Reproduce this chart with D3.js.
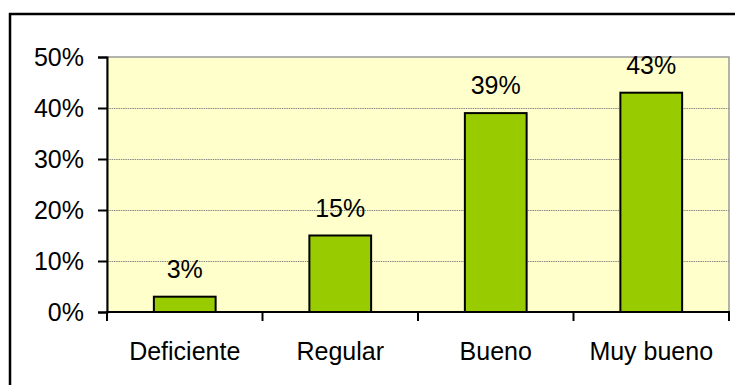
<!DOCTYPE html>
<html>
<head>
<meta charset="utf-8">
<script src="https://cdn.jsdelivr.net/npm/d3@7"></script>
<style>
  html, body { margin: 0; padding: 0; background: #fff; }
  svg { display: block; }
  text { font-family: "Liberation Sans", Arial, sans-serif; fill: #000; }
</style>
</head>
<body>
<svg id="chart" width="735" height="385"></svg>
<script>
// Ratings and their shares
const categories = ["Deficiente", "Regular", "Bueno", "Muy bueno"];
const values = [0.03, 0.15, 0.39, 0.43];
const yTicks = [0, 0.1, 0.2, 0.3, 0.4, 0.5];

const svg = d3.select("#chart");
const W = 735, H = 385;
const plot = { left: 107, right: 729, top: 57, bottom: 312 };

// Outer frame
svg.append("rect")
  .attr("x", 10).attr("y", 14)
  .attr("width", W + 20).attr("height", H + 20)
  .attr("fill", "#fff").attr("stroke", "#000").attr("stroke-width", 2.5);

const x = d3.scaleBand().domain(categories)
  .range([plot.left, plot.right]).paddingInner(0.59).paddingOuter(0.295);
const xOuter = d3.scaleBand().domain(categories).range([plot.left, plot.right]);
const y = d3.scaleLinear().domain([0, 0.5]).range([plot.bottom, plot.top]);

// Plot background
svg.append("rect")
  .attr("x", plot.left).attr("y", plot.top)
  .attr("width", plot.right - plot.left).attr("height", plot.bottom - plot.top)
  .attr("fill", "#FFFFCC").attr("stroke", "#999").attr("stroke-width", 1.5);

// Gridlines
svg.append("g").selectAll("line")
  .data(yTicks.filter(t => t > 0 && t < 0.5))
  .join("line")
  .attr("x1", plot.left).attr("x2", plot.right)
  .attr("y1", d => Math.round(y(d)) + 0.5).attr("y2", d => Math.round(y(d)) + 0.5)
  .attr("stroke", "#8a8a8a").attr("stroke-width", 1)
  .attr("stroke-dasharray", "1.5,0.8");

// Bars
svg.append("g").selectAll("rect")
  .data(values)
  .join("rect")
  .attr("x", (d, i) => x(categories[i]) + 1)
  .attr("width", x.bandwidth() - 2)
  .attr("y", d => y(d))
  .attr("height", d => y(0) - y(d))
  .attr("fill", "#99CC00")
  .attr("stroke", "#000").attr("stroke-width", 2);

// Value labels
svg.append("g").selectAll("text")
  .data(values)
  .join("text")
  .attr("x", (d, i) => x(categories[i]) + x.bandwidth() / 2)
  .attr("y", d => y(d) - 19)
  .attr("text-anchor", "middle")
  .attr("font-size", 25)
  .text(d => d3.format(".0%")(d));

// Y axis
const yAxis = d3.axisLeft(y).tickValues(yTicks).tickFormat(d3.format(".0%"))
  .tickSize(9).tickPadding(14);
const gy = svg.append("g").attr("transform", `translate(${plot.left},0)`).call(yAxis);
gy.select(".domain").attr("stroke", "#000").attr("stroke-width", 2);
gy.selectAll(".tick line").attr("stroke", "#000").attr("stroke-width", 2);
gy.selectAll(".tick text").attr("font-size", 25)
  .attr("font-family", "'Liberation Sans', Arial, sans-serif").attr("fill", "#000");

// X axis: ticks mark category boundaries
const gx = svg.append("g").attr("transform", `translate(0,${plot.bottom})`);
gx.append("line")
  .attr("x1", plot.left - 1).attr("x2", plot.right + 1)
  .attr("stroke", "#000").attr("stroke-width", 2);
const bounds = categories.map(c => xOuter(c)).concat([plot.right]);
gx.selectAll(".bt").data(bounds).join("line")
  .attr("class", "bt")
  .attr("x1", d => d).attr("x2", d => d)
  .attr("y1", 0).attr("y2", 9)
  .attr("stroke", "#000").attr("stroke-width", 2);
gx.selectAll("text").data(categories).join("text")
  .attr("x", d => xOuter(d) + xOuter.bandwidth() / 2)
  .attr("y", 48)
  .attr("text-anchor", "middle")
  .attr("font-size", 25)
  .text(d => d);
</script>
</body>
</html>
